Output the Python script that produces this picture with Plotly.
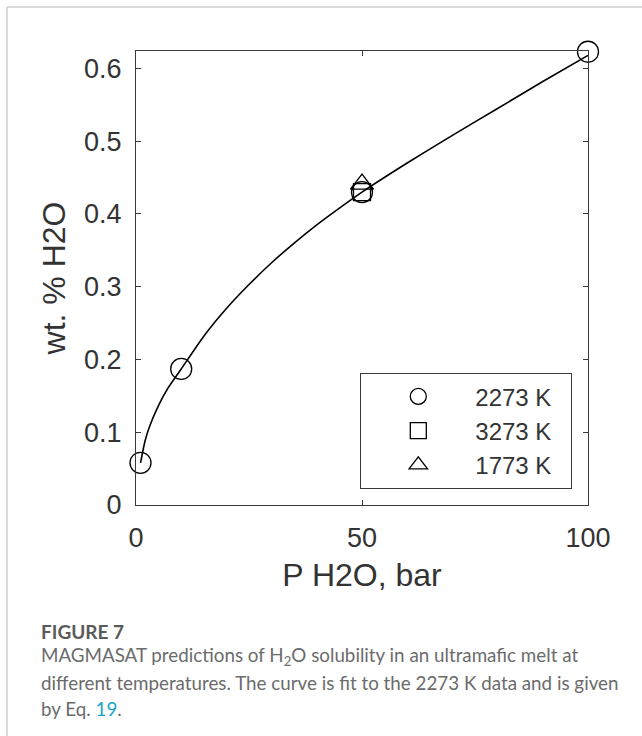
import plotly.graph_objects as go

# values
p_2273 = [1, 10, 50, 100]
w_2273 = [0.058, 0.187, 0.430, 0.623]
p_3273 = [50]
w_3273 = [0.430]
p_1773 = [50]
w_1773 = [0.441]

# fit curve
p_fit = [1, 2, 3, 5, 7, 10, 15, 20, 25, 30, 35, 40, 45, 50, 60, 70, 80, 90, 100]
w_fit = [0.058, 0.088, 0.108, 0.137, 0.160, 0.187, 0.232, 0.270, 0.303, 0.333, 0.360, 0.385, 0.408, 0.430,
         0.470, 0.508, 0.545, 0.582, 0.618]

x_ticks = [0, 50, 100]
y_ticks = [0, 0.1, 0.2, 0.3, 0.4, 0.5, 0.6]

W, H = 642, 736
L, R, T, B = 136, 588, 51, 505  # plot area in pixels


def px_x(px):
    return (px - L) / (R - L)


def px_y(py):
    return (B - py) / (B - T)


axis_col = '#3a3a3a'
fig = go.Figure()

fig.add_trace(go.Scatter(x=p_fit, y=w_fit, mode='lines', line=dict(color='black', width=1.6, shape='spline', smoothing=0.6),
                         showlegend=False, hoverinfo='skip'))
fig.add_trace(go.Scatter(x=p_2273, y=w_2273, mode='markers', name='2273 K\u00a0\u00a0', cliponaxis=False,
                         marker=dict(symbol='circle-open', size=21, color='black', line=dict(width=1.3))))
fig.add_trace(go.Scatter(x=p_3273, y=w_3273, mode='markers', name='3273 K\u00a0\u00a0', cliponaxis=False,
                         marker=dict(symbol='square-open', size=17, color='black', line=dict(width=1.3))))
fig.add_trace(go.Scatter(x=p_1773, y=w_1773, mode='markers', name='1773 K\u00a0\u00a0', cliponaxis=False,
                         marker=dict(symbol='triangle-up-open', size=20, color='black', line=dict(width=1.3))))

axis_common = dict(showline=True, linecolor=axis_col, linewidth=1.3, mirror='ticks', ticks='inside',
                   ticklen=5, tickcolor=axis_col, tickwidth=1.1, showgrid=False, zeroline=False,
                   tickfont=dict(family='Liberation Sans, Arial', size=27, color='#333333'))
fig.update_xaxes(range=[0, 100], tickvals=x_ticks, ticktext=[str(v) for v in x_ticks], ticklabelstandoff=8,
                 title=dict(text='P H2O, bar', standoff=12,
                            font=dict(family='Liberation Sans, Arial', size=32, color='#333333')),
                 **axis_common)
fig.update_yaxes(range=[0, 0.624], tickvals=y_ticks, ticktext=['0'] + [f'{v:g}' for v in y_ticks[1:]],
                 ticklabelstandoff=8,
                 title=dict(text='wt. % H2O', standoff=8,
                            font=dict(family='Liberation Sans, Arial', size=32, color='#333333')),
                 **axis_common)

fig.update_layout(
    width=W, height=H,
    margin=dict(l=L, r=W - R, t=T, b=H - B),
    paper_bgcolor='white', plot_bgcolor='white',
    legend=dict(x=px_x(360), y=px_y(373), xanchor='left', yanchor='top',
                bgcolor='white', bordercolor=axis_col, borderwidth=1.3,
                font=dict(family='Liberation Sans, Arial', size=24, color='#333333'),
                itemwidth=104),
)

# card frame (top and left edges visible)
frame = '#cfcfcf'
fig.add_shape(type='line', xref='paper', yref='paper', x0=px_x(7), x1=px_x(W + 5), y0=px_y(7), y1=px_y(7),
              line=dict(color=frame, width=1.5))
fig.add_shape(type='line', xref='paper', yref='paper', x0=px_x(7), x1=px_x(7), y0=px_y(7), y1=px_y(H + 5),
              line=dict(color=frame, width=1.5))

# caption
cap_font = 'Lato, Noto Sans, sans-serif'
fig.add_annotation(text='<b>FIGURE 7</b>', xref='paper', yref='paper', x=px_x(39), y=px_y(631),
                   xanchor='left', yanchor='middle', showarrow=False,
                   font=dict(family=cap_font, size=19, color='#5a5a5a'))
cap_lines = [
    'MAGMASAT predictions of H<sub>2</sub>O solubility in an ultramafic melt at',
    'different temperatures. The curve is fit to the 2273 K data and is given',
    'by Eq. <span style="color:#1ba3c6">19</span>.',
]
for i, line in enumerate(cap_lines):
    fig.add_annotation(text=line, xref='paper', yref='paper', x=px_x(39), y=px_y(656 + 26 * i),
                       xanchor='left', yanchor='middle', showarrow=False,
                       font=dict(family=cap_font, size=18.8, color='#6b6b6b'))

# page body has a default 8px margin; drop it so the figure sits at the window corner
fig.write_html('out.html', config={'displayModeBar': False},
               post_script="document.body.style.margin='0';")
